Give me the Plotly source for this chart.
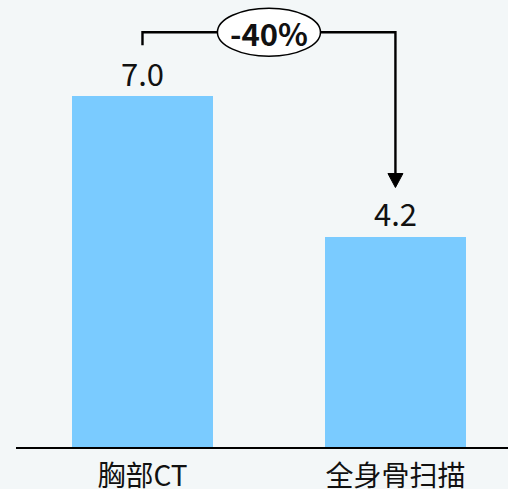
import plotly.graph_objects as go

# Data
categories = ["胸部CT", "全身骨扫描"]
values = [7.0, 4.2]
value_labels = ["7.0", "4.2"]
change_label = "-40%"

BAR_COLOR = "#7acbff"
BG = "#f3f7f8"
FONT = "Noto Sans CJK SC"

x_pos = list(range(len(categories)))
y_max = 8.92

fig = go.Figure(
    go.Bar(
        x=x_pos,
        y=values,
        width=0.557,
        marker=dict(color=BAR_COLOR, line=dict(width=0)),
        hoverinfo="skip",
    )
)

# Value labels above the bars
for xi, v, lab in zip(x_pos, values, value_labels):
    fig.add_annotation(
        x=xi, y=v, text=lab, showarrow=False,
        yanchor="middle", yshift=24,
        font=dict(family=FONT, size=31, color="#111111"),
    )

# Bracket connector from the first bar to the second, ending in an arrow
px = y_max / 447.0  # data units per pixel (vertical)
bracket_top = values[0] + 64 * px
bracket_start = values[0] + 51 * px
arrow_tip = values[1] + 49 * px
head_len = 14 * px
head_half_w = 7.5 / 253.0

fig.add_shape(
    type="path",
    path=(f"M {x_pos[0]},{bracket_start} L {x_pos[0]},{bracket_top} "
          f"L {x_pos[1]},{bracket_top} L {x_pos[1]},{arrow_tip + head_len}"),
    line=dict(color="#000000", width=2.4),
    xref="x", yref="y",
)
fig.add_shape(
    type="path",
    path=(f"M {x_pos[1] - head_half_w},{arrow_tip + head_len} "
          f"L {x_pos[1] + head_half_w},{arrow_tip + head_len} "
          f"L {x_pos[1]},{arrow_tip} Z"),
    fillcolor="#000000", line=dict(color="#000000", width=1),
    xref="x", yref="y",
)

# Oval badge with the percentage change
mid_x = (x_pos[0] + x_pos[1]) / 2
fig.add_shape(
    type="circle",
    x0=mid_x - 0.2036, x1=mid_x + 0.2036,
    y0=bracket_top - 24 * px, y1=bracket_top + 24 * px,
    fillcolor="#ffffff", line=dict(color="#000000", width=1.5),
    xref="x", yref="y",
)
fig.add_annotation(
    x=mid_x, y=bracket_top, text=f"<b>{change_label}</b>", showarrow=False,
    yanchor="middle",
    font=dict(family=FONT, size=31, color="#111111"),
)

fig.update_layout(
    width=508, height=489,
    margin=dict(l=16, r=0, t=0, b=42),
    paper_bgcolor=BG, plot_bgcolor=BG,
    showlegend=False,
    bargap=0,
    xaxis=dict(
        range=[-0.5, 1.445],
        tickmode="array", tickvals=x_pos, ticktext=categories,
        showline=True, linecolor="#000000", linewidth=2,
        showgrid=False, zeroline=False, ticks="",
        automargin=False,
        ticklabelstandoff=3,
        tickfont=dict(family=FONT, size=28, color="#111111"),
        fixedrange=True,
    ),
    yaxis=dict(
        range=[0, y_max], visible=False, showgrid=False, zeroline=False,
        automargin=False, fixedrange=True,
    ),
)

fig.write_html("out.html", config={"displayModeBar": False})
